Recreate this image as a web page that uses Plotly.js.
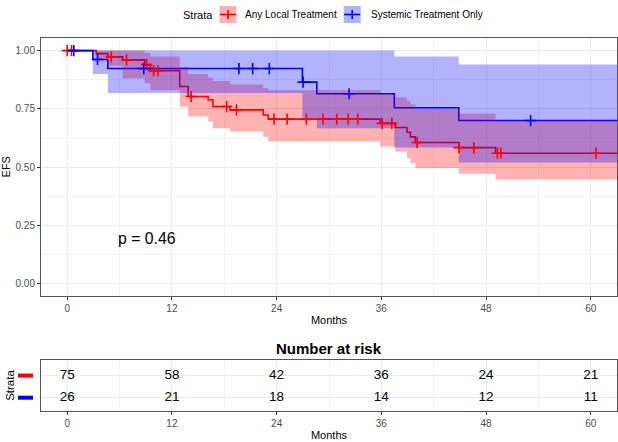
<!DOCTYPE html>
<html>
<head>
<meta charset="utf-8">
<script src="https://cdn.plot.ly/plotly-3.0.1.min.js"></script>
<style>html,body{margin:0;padding:0;background:#fff}</style>
</head>
<body>
<div id="plot" style="width:618px;height:442px"></div>
<script>
// strata names
let strata = ["Any Local Treatment", "Systemic Treatment Only"];

// Any Local Treatment: step times (months), KM estimate, 95% CI
let localTime  = [0, 3.33, 4.66, 6.35, 8.88, 9.53, 12.9, 13.86, 16.15, 16.7, 18.65, 22.47, 23.04, 35.88, 37.6, 38.94, 39.32, 39.9, 44.87, 49.09, 66];
let localSurv  = [1, 0.987, 0.973, 0.96, 0.94, 0.914, 0.846, 0.803, 0.789, 0.76, 0.746, 0.724, 0.706, 0.688, 0.670, 0.650, 0.630, 0.606, 0.584, 0.560, 0.560];
let localLower = [1, 0.96, 0.935, 0.88, 0.86, 0.83, 0.76, 0.717, 0.696, 0.667, 0.653, 0.63, 0.61, 0.589, 0.567, 0.54, 0.518, 0.497, 0.472, 0.447, 0.447];
let localUpper = [1, 1, 1, 1, 0.99, 0.975, 0.93, 0.90, 0.885, 0.87, 0.855, 0.84, 0.83, 0.815, 0.80, 0.785, 0.77, 0.75, 0.73, 0.70, 0.70];
let localCensor = [0, 0.5, 5.05, 6.8, 9.1, 9.9, 10.4, 14.2, 18.26, 19.4, 23.7, 25.2, 27.4, 29.3, 30.9, 32.2, 33.3, 36.1, 37.2, 40.1, 44.9, 46.6, 49.3, 49.7, 60.6];

// Systemic Treatment Only
let sysTime  = [0, 2.94, 4.66, 26.95, 28.6, 37.48, 44.87, 66];
let sysSurv  = [1, 0.962, 0.923, 0.865, 0.815, 0.755, 0.70, 0.70];
let sysLower = [1, 0.90, 0.818, 0.71, 0.667, 0.585, 0.52, 0.52];
let sysUpper = [1, 1, 1, 1, 1, 0.975, 0.94, 0.94];
let sysCensor = [0.76, 3.48, 8.77, 19.68, 21.25, 23.16, 27.03, 32.3, 53.1];

// number at risk table
let riskTimes = [0, 12, 24, 36, 48, 60];
let riskLocal = [75, 58, 42, 36, 24, 21];
let riskSys   = [26, 21, 18, 14, 12, 11];

let pText = "p = 0.46";

const FONT = "Liberation Sans, Arial, sans-serif";
const RED = "#FF0000", BLUE = "#0000FF";
const RED_FILL = "rgba(255,0,0,0.3)", BLUE_FILL = "rgba(0,0,255,0.3)";

function survAt(times, surv, t) {
  let s = surv[0];
  for (let i = 0; i < times.length; i++) if (times[i] <= t) s = surv[i];
  return s;
}

function stepLine(x, y, color, name) {
  return {x: x, y: y, mode: "lines", line: {shape: "hv", color: color, width: 1.6},
          name: name, showlegend: false, hoverinfo: "skip"};
}
function band(x, lo, hi, fill) {
  return [
    {x: x, y: lo, mode: "lines", line: {shape: "hv", width: 0}, showlegend: false, hoverinfo: "skip"},
    {x: x, y: hi, mode: "lines", line: {shape: "hv", width: 0}, fill: "tonexty",
     fillcolor: fill, showlegend: false, hoverinfo: "skip"}
  ];
}
function censors(times, stepT, stepS, color) {
  return {x: times, y: times.map(t => survAt(stepT, stepS, t)), mode: "markers",
          marker: {symbol: "cross-thin", size: 8, line: {color: color, width: 1.6}},
          showlegend: false, hoverinfo: "skip"};
}

let data = [
  stepLine(localTime, localSurv, RED, strata[0]),
  stepLine(sysTime, sysSurv, BLUE, strata[1]),
  ...band(localTime, localLower, localUpper, RED_FILL),
  ...band(sysTime, sysLower, sysUpper, BLUE_FILL),
  censors(localCensor, localTime, localSurv, RED),
  censors(sysCensor, sysTime, sysSurv, BLUE),
  {x: riskTimes, y: riskTimes.map(() => 2), text: riskLocal.map(String), mode: "text",
   textfont: {family: FONT, size: 13.5, color: "#000"}, xaxis: "x2", yaxis: "y2",
   showlegend: false, hoverinfo: "skip"},
  {x: riskTimes, y: riskTimes.map(() => 1), text: riskSys.map(String), mode: "text",
   textfont: {family: FONT, size: 13.5, color: "#000"}, xaxis: "x2", yaxis: "y2",
   showlegend: false, hoverinfo: "skip"}
];

// page geometry (px) for paper conversions
const W = 618, H = 442, ML = 41, MR = 1, MT = 38, MB = 31;
const PW = W - ML - MR, PH = H - MT - MB;
const xp = px => (px - ML) / PW;
const yp = py => (H - MB - py) / PH;

const topDomain = [yp(295.5), 1];
const riskDomain = [0, yp(360)];
const riskRange = [0.4, 2.7];
const rowPaper = v => riskDomain[0] + (v - riskRange[0]) / (riskRange[1] - riskRange[0]) * (riskDomain[1] - riskDomain[0]);

const gridCol = "#EBEBEB";
function xAxis(anchor) {
  return {
    anchor: anchor, domain: [0, 1], range: [-3, 63],
    tickmode: "linear", tick0: 0, dtick: 12,
    ticks: "outside", ticklen: 3, tickcolor: "#333", tickwidth: 1,
    tickfont: {family: FONT, size: 10, color: "#4D4D4D"},
    showline: true, mirror: true, linecolor: "#555", linewidth: 1,
    showgrid: true, gridcolor: gridCol, gridwidth: 1, zeroline: false,
    minor: {dtick: 6, showgrid: true, gridcolor: gridCol, gridwidth: 0.6, ticks: ""},
    title: {text: "Months", font: {family: FONT, size: 11, color: "#000"}, standoff: 3}
  };
}

let shapes = [];
let annotations = [];

// strata colour dashes beside the risk table
[[2, RED], [1, BLUE]].forEach(([row, col]) => {
  let c = rowPaper(row);
  shapes.push({type: "rect", xref: "paper", yref: "paper", x0: xp(18), x1: xp(33),
               y0: c - 2 / PH, y1: c + 2 / PH, fillcolor: col, line: {width: 0}});
});

// legend drawn like the ggplot key
const legY = 14.5;
annotations.push({text: "Strata", xref: "paper", yref: "paper", x: xp(180.5), y: yp(legY),
                  xanchor: "left", yanchor: "middle", showarrow: false,
                  font: {family: FONT, size: 11, color: "#000"}});
[[219.5, strata[0], RED, RED_FILL, 243], [343.7, strata[1], BLUE, BLUE_FILL, 369]].forEach(([kx, name, col, fill, tx]) => {
  shapes.push({type: "rect", xref: "paper", yref: "paper", x0: xp(kx), x1: xp(kx + 17),
               y0: yp(legY + 8.5), y1: yp(legY - 8.5), fillcolor: fill, line: {width: 0}});
  shapes.push({type: "line", xref: "paper", yref: "paper", x0: xp(kx + 0.5), x1: xp(kx + 16.5),
               y0: yp(legY), y1: yp(legY), line: {color: col, width: 1.6}});
  shapes.push({type: "line", xref: "paper", yref: "paper", x0: xp(kx + 8.5), x1: xp(kx + 8.5),
               y0: yp(legY + 4.5), y1: yp(legY - 4.5), line: {color: col, width: 1.6}});
  annotations.push({text: name, xref: "paper", yref: "paper", x: xp(tx), y: yp(legY),
                    xanchor: "left", yanchor: "middle", showarrow: false,
                    font: {family: FONT, size: 10, color: "#000"}});
});

annotations.push({text: pText, xref: "x", yref: "y", x: 9.14, y: 0.196, showarrow: false,
                  font: {family: FONT, size: 15.8, color: "#000"}});
annotations.push({text: "<b>Number at risk</b>", xref: "paper", yref: "paper", x: 0.5, y: yp(348),
                  yanchor: "middle", showarrow: false, font: {family: FONT, size: 15, color: "#000"}});

let layout = {
  width: W, height: H,
  margin: {l: ML, r: MR, t: MT, b: MB},
  paper_bgcolor: "#fff", plot_bgcolor: "#fff",
  showlegend: false,
  font: {family: FONT},
  xaxis: xAxis("y"),
  yaxis: {
    domain: topDomain, range: [-0.05, 1.054],
    tickmode: "linear", tick0: 0, dtick: 0.25, tickformat: ".2f",
    ticks: "outside", ticklen: 3, tickcolor: "#333", tickwidth: 1,
    tickfont: {family: FONT, size: 10, color: "#4D4D4D"},
    showline: true, mirror: true, linecolor: "#555", linewidth: 1,
    showgrid: true, gridcolor: gridCol, gridwidth: 1, zeroline: false,
    minor: {dtick: 0.125, showgrid: true, gridcolor: gridCol, gridwidth: 0.6, ticks: ""},
    title: {text: "EFS", font: {family: FONT, size: 11, color: "#000"}, standoff: 2}
  },
  xaxis2: xAxis("y2"),
  yaxis2: {
    domain: riskDomain, range: riskRange,
    tickmode: "array", tickvals: [1, 2], showticklabels: false, ticks: "",
    showline: true, mirror: true, linecolor: "#555", linewidth: 1,
    showgrid: true, gridcolor: gridCol, gridwidth: 1, zeroline: false,
    title: {text: "Strata", font: {family: FONT, size: 11.5, color: "#000"}, standoff: 22}
  },
  shapes: shapes,
  annotations: annotations
};

Plotly.newPlot("plot", data, layout, {staticPlot: true, displayModeBar: false});
</script>
</body>
</html>
